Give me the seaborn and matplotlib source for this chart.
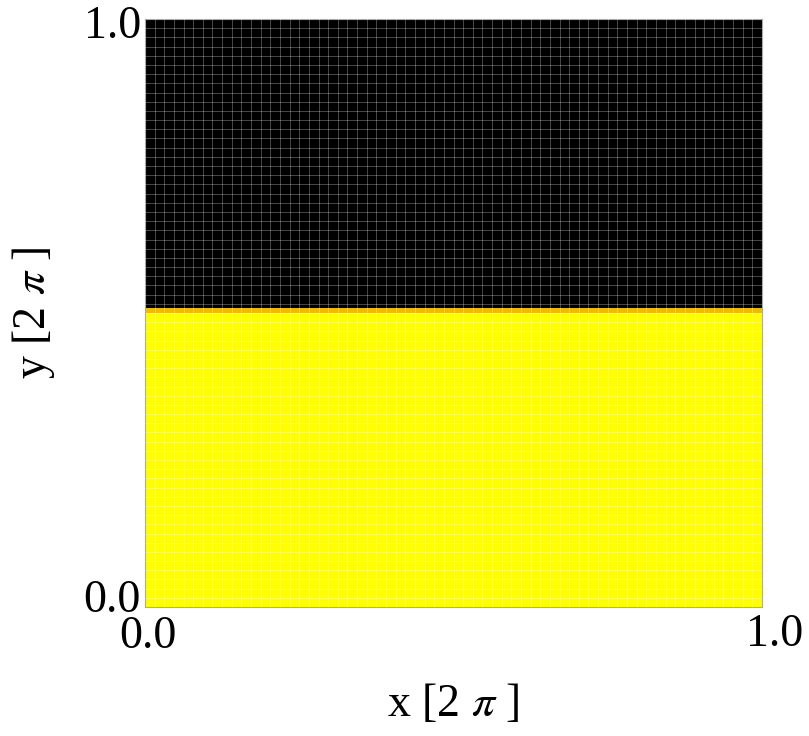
import numpy as np
import pandas as pd
import matplotlib
matplotlib.use("Agg")
import matplotlib.pyplot as plt
from matplotlib.colors import LinearSegmentedColormap
from matplotlib.transforms import ScaledTranslation
import seaborn as sns

# Volume fraction on a 128 x 128 cell mesh: heavy fluid below, light fluid above,
# with one partially filled cell row at the interface.
n_cells = 128
rows_filled = 64          # rows of full cells from the bottom
interface_value = 0.78    # fill of the interface row
rows_empty = 63           # rows of empty cells up to the top
mesh_step = 2             # draw a mesh line every other cell

profile = [1.0] * rows_filled + [interface_value] + [0.0] * rows_empty
x_ticks = [0, n_cells]
x_ticklabels = ["0.0", "1.0"]
y_ticks = [0, n_cells]
y_ticklabels = ["0.0", "1.0"]

field = np.repeat(np.array(profile)[:, None], n_cells, axis=1)
df = pd.DataFrame(field)

sns.set_style("white")
plt.rcParams["font.family"] = ["Liberation Serif", "DejaVu Serif"]
plt.rcParams["mathtext.fontset"] = "stix"
for key in ("text.color", "axes.labelcolor", "xtick.color", "ytick.color"):
    plt.rcParams[key] = "black"

cmap = LinearSegmentedColormap.from_list(
    "vof", ["#000000", "#7a3000", "#e89a00", "#ffff00"]
)

fig = plt.figure(figsize=(8.09, 7.36), dpi=100)
ax = fig.add_axes([145 / 809, 1 - 607 / 736, 617 / 809, 588 / 736])

sns.heatmap(df, ax=ax, cmap=cmap, vmin=0, vmax=1, cbar=False, square=False)
ax.invert_yaxis()

# mesh lines
mesh = np.arange(0, n_cells + 1, mesh_step)
ax.set_xticks(mesh, minor=True)
ax.set_yticks(mesh, minor=True)
ax.grid(which="minor", color="white", alpha=0.33, linewidth=0.6)
ax.set_axisbelow(False)

fs = 33
ax.set_xticks(x_ticks)
ax.set_xticklabels(x_ticklabels, rotation=0)
ax.set_yticks(y_ticks)
ax.set_yticklabels(y_ticklabels, rotation=0)
ax.tick_params(axis="both", which="both", length=0)
ax.tick_params(axis="both", which="major", labelsize=fs)
ax.tick_params(axis="x", pad=6)
ax.tick_params(axis="y", pad=3)

# nudge the end labels (pixel offsets at 100 dpi)
px = 1 / 100
x_shift = {"0.0": (3, 0), "1.0": (13, 2)}
y_shift = {"0.0": (0, 6), "1.0": (0, -8)}
for lbl in ax.get_xticklabels():
    dx, dy = x_shift[lbl.get_text()]
    lbl.set_transform(lbl.get_transform() + ScaledTranslation(dx * px, dy * px, fig.dpi_scale_trans))
for lbl in ax.get_yticklabels():
    dx, dy = y_shift[lbl.get_text()]
    lbl.set_transform(lbl.get_transform() + ScaledTranslation(dx * px, dy * px, fig.dpi_scale_trans))

ax.set_xlabel(r"x [2 $\pi$ ]", fontsize=fs, labelpad=18)
ax.set_ylabel(r"y [2 $\pi$ ]", fontsize=fs, labelpad=19)

for spine in ax.spines.values():
    spine.set_visible(True)
    spine.set_color("#aaaaaa")
    spine.set_linewidth(0.8)

fig.savefig("out.png", dpi=100)
